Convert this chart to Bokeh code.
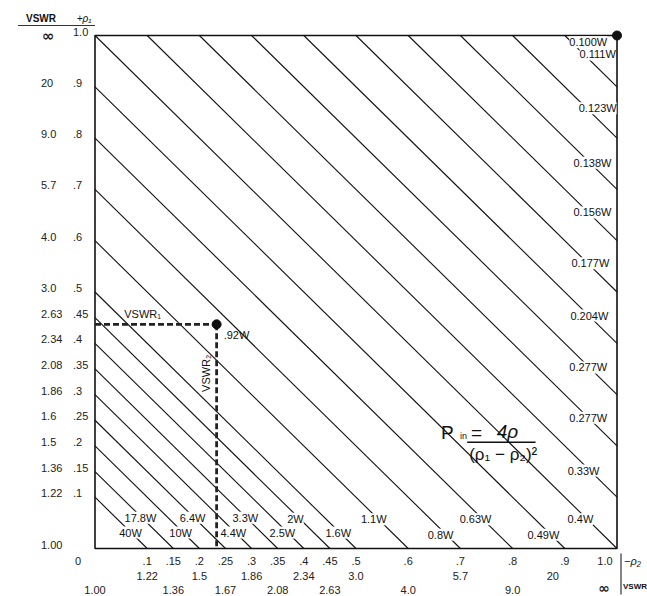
import math
from bokeh.plotting import figure
from bokeh.models import Range1d, ColumnDataSource, LabelSet, Label
from bokeh.embed import file_html
from bokeh.resources import INLINE
from bokeh.core.properties import value

# ---------------- data ----------------
# constant-power lines: rho1 + |rho2| = c, Pin = 4*rho/(rho1-rho2)^2
rho_sum = [0.1, 0.15, 0.2, 0.25, 0.3, 0.35, 0.4, 0.45, 0.5, 0.6, 0.7, 0.8, 0.9,
           1.0, 1.1, 1.2, 1.3, 1.4, 1.5, 1.6, 1.7, 1.8, 1.9, 2.0]
power_labels = ["40W", "17.8W", "10W", "6.4W", "4.4W", "3.3W", "2.5W", "2W", "1.6W",
                "1.1W", "0.8W", "0.63W", "0.49W", "0.4W", "0.33W", "0.277W", "0.277W",
                "0.204W", "0.177W", "0.156W", "0.138W", "0.123W", "0.111W", "0.100W"]

# rho1 scale (left)
rho1_ticks = [0.1, 0.15, 0.2, 0.25, 0.3, 0.35, 0.4, 0.45, 0.5, 0.6, 0.7, 0.8, 0.9, 1.0]
rho1_labels = [".1", ".15", ".2", ".25", ".3", ".35", ".4", ".45", ".5", ".6", ".7", ".8", ".9", "1.0"]
vswr1_ticks = [0.0, 0.1, 0.15, 0.2, 0.25, 0.3, 0.35, 0.4, 0.45, 0.5, 0.6, 0.7, 0.8, 0.9, 1.0]
vswr1_labels = ["1.00", "1.22", "1.36", "1.5", "1.6", "1.86", "2.08", "2.34", "2.63", "3.0",
                "4.0", "5.7", "9.0", "20", "\u221e"]

# rho2 scale (bottom)
rho2_ticks = [0.0, 0.1, 0.15, 0.2, 0.25, 0.3, 0.35, 0.4, 0.45, 0.5, 0.6, 0.7, 0.8, 0.9, 1.0]
rho2_labels = ["0", ".1", ".15", ".2", ".25", ".3", ".35", ".4", ".45", ".5", ".6", ".7", ".8", ".9", "1.0"]
vswr2a_ticks = [0.1, 0.2, 0.3, 0.4, 0.5, 0.7, 0.9]
vswr2a_labels = ["1.22", "1.5", "1.86", "2.34", "3.0", "5.7", "20"]
vswr2b_ticks = [0.0, 0.15, 0.25, 0.35, 0.45, 0.6, 0.8, 1.0]
vswr2b_labels = ["1.00", "1.36", "1.67", "2.08", "2.63", "4.0", "9.0", "\u221e"]

# example operating point
op_rho2 = [0.233]
op_rho1 = [0.437]
op_power = [".92W"]

# ---------------- layout / style ----------------
# where each power label sits (rho2, rho1 coordinates)
label_pos_x = [0.068, 0.087, 0.164, 0.187, 0.265, 0.288, 0.359, 0.384, 0.466,
               0.534, 0.662, 0.729, 0.859, 0.930, 0.936, 0.945, 0.945,
               0.947, 0.949, 0.953, 0.953, 0.963, 0.963, 0.945]
label_pos_y = [0.031, 0.060, 0.031, 0.060, 0.031, 0.060, 0.031, 0.058, 0.031,
               0.057, 0.027, 0.057, 0.027, 0.057, 0.152, 0.255, 0.353,
               0.454, 0.556, 0.655, 0.752, 0.858, 0.963, 0.987]

FONT = "Liberation Sans"
W, H = 647, 596
X0, XS = 94.5, 522.0      # pixel of rho2=0, pixels per unit
Y0, YS = 548.0, 513.0     # pixel of rho1=0, pixels per unit

p = figure(width=W, height=H, output_backend="svg", toolbar_location=None,
           x_range=Range1d(-X0 / XS, (W - X0) / XS),
           y_range=Range1d(-(H - Y0) / YS, Y0 / YS),
           x_axis_type=None, y_axis_type=None, min_border=0)
p.grid.visible = False
p.outline_line_color = None
p.background_fill_color = "white"
p.border_fill_color = "white"

# chart box
p.quad(left=[0], right=[1], bottom=[0], top=[1], fill_color=None,
       line_color="#111111", line_width=1.6)

# constant power lines clipped to the unit square
xs, ys = [], []
for c in rho_sum:
    if c <= 1.0:
        xs.append([0.0, c]); ys.append([c, 0.0])
    else:
        xs.append([c - 1.0, 1.0]); ys.append([1.0, c - 1.0])
p.multi_line(xs, ys, line_color="#111111", line_width=1.1)

src = ColumnDataSource(dict(x=label_pos_x, y=label_pos_y, t=power_labels))
p.add_layout(LabelSet(x="x", y="y", text="t", source=src, text_align="center",
                      text_baseline="middle", text_font=value(FONT), text_font_size="11px",
                      text_color="#111111", background_fill_color="white"))

# operating point with dashed guides
p.line([0.0, op_rho2[0]], [op_rho1[0], op_rho1[0]], line_color="#222222",
       line_width=2.8, line_dash="6 3")
p.line([op_rho2[0], op_rho2[0]], [op_rho1[0], 0.0], line_color="#222222",
       line_width=2.8, line_dash="6 3")
p.scatter(op_rho2, op_rho1, size=9, color="#111111")
p.scatter([1.0], [1.0], size=9, color="#111111")


def lab(x, y, text, size="11px", align="center", xo=0, yo=0, style="normal",
        font=FONT, angle=0.0, color="#111111"):
    p.add_layout(Label(x=x, y=y, text=text, x_offset=xo, y_offset=yo, angle=angle,
                       text_align=align, text_baseline="middle", text_font=font,
                       text_font_size=size, text_font_style=style, text_color=color))


def row(xv, yv, texts, xo=0, yo=0, align="center"):
    """Tick labels; the infinity sign is drawn larger and bold like the original."""
    norm = [(a, b, t) for a, b, t in zip(xv, yv, texts) if t != "\u221e"]
    src = ColumnDataSource(dict(x=[n[0] for n in norm], y=[n[1] for n in norm],
                                t=[n[2] for n in norm]))
    p.add_layout(LabelSet(x="x", y="y", text="t", source=src, x_offset=xo, y_offset=yo,
                          text_align=align, text_baseline="middle", text_font=value(FONT),
                          text_font_size="11px", text_color="#222222"))
    for a, b, t in zip(xv, yv, texts):
        if t == "\u221e":
            return a, b
    return None


# left scales: VSWR column and +rho1 column (left aligned like the original)
row([0.0] * len(rho1_ticks), rho1_ticks, rho1_labels, xo=-22, yo=4, align="left")
inf_left = row([0.0] * len(vswr1_ticks), vswr1_ticks, vswr1_labels, xo=-54, yo=4, align="left")
lab(inf_left[0], inf_left[1], "\u221e", size="15px", align="left", xo=-53, yo=0,
    font="DejaVu Sans", style="bold", color="#222222")

# bottom scales: -rho2 row and two VSWR rows
r1 = [(t, l) for t, l in zip(rho2_ticks, rho2_labels) if l not in ("0", "1.0")]
row([t for t, _ in r1], [0.0] * len(r1), [l for _, l in r1], yo=-12)
lab(0.0, 0.0, rho2_labels[0], xo=-17, yo=-12, color="#222222")
lab(1.0, 0.0, rho2_labels[-1], xo=-12, yo=-12, color="#222222")
r2 = [(t, l) for t, l in zip(vswr2a_ticks, vswr2a_labels) if l != "20"]
row([t for t, _ in r2], [0.0] * len(r2), [l for _, l in r2], yo=-27)
lab(vswr2a_ticks[-1], 0.0, vswr2a_labels[-1], xo=-12, yo=-27, color="#222222")
inf_bot = row(vswr2b_ticks, [0.0] * len(vswr2b_ticks), vswr2b_labels, yo=-41)
lab(inf_bot[0], inf_bot[1], "\u221e", size="14px", xo=-13, yo=-39,
    font="DejaVu Sans", style="bold", color="#222222")

# separator and captions at the lower right
p.segment(x0=[1.0 + 4.0 / XS], y0=[-5 / YS], x1=[1.0 + 4.0 / XS], y1=[-46 / YS],
          line_color="#333333", line_width=1.2)
lab(1.0, 0.0, "\u2212\u03c1\u2082", align="left", xo=7, yo=-12, style="italic", size="11px")
lab(1.0, 0.0, "VSWR", align="left", xo=6, yo=-38, style="bold", size="8px")

# header at the upper left
lab(0.0, 1.0, "VSWR", xo=-54, yo=17, style="bold", size="10px")
lab(0.0, 1.0, "+\u03c1\u2081", xo=-11, yo=17, style="italic", size="10px")
p.segment(x0=[-77 / XS], y0=[1 + 10 / YS], x1=[0.0], y1=[1 + 10 / YS],
          line_color="#333333", line_width=1.2)

# operating point annotations
lab(op_rho2[0], op_rho1[0], op_power[0], align="left", xo=7, yo=-11)
lab(op_rho2[0], op_rho1[0], "VSWR\u2081", xo=-74, yo=10)
lab(op_rho2[0], op_rho1[0], "VSWR\u2082", angle=math.pi / 2, xo=-11, yo=-49)

# formula
lab(0.675, 0.227, "P", size="19px")
lab(0.706, 0.219, "in", size="9px")
lab(0.731, 0.227, "=", size="19px")
lab(0.790, 0.228, "4\u03c1", size="19px", style="italic")
p.segment(x0=[0.713], y0=[0.207], x1=[0.844], y1=[0.207], line_color="#111111", line_width=1.5)
lab(0.782, 0.184, "(\u03c1\u2081 \u2212 \u03c1\u2082)\u00b2", size="17px")

open("out.html", "w").write(file_html(p, INLINE))
